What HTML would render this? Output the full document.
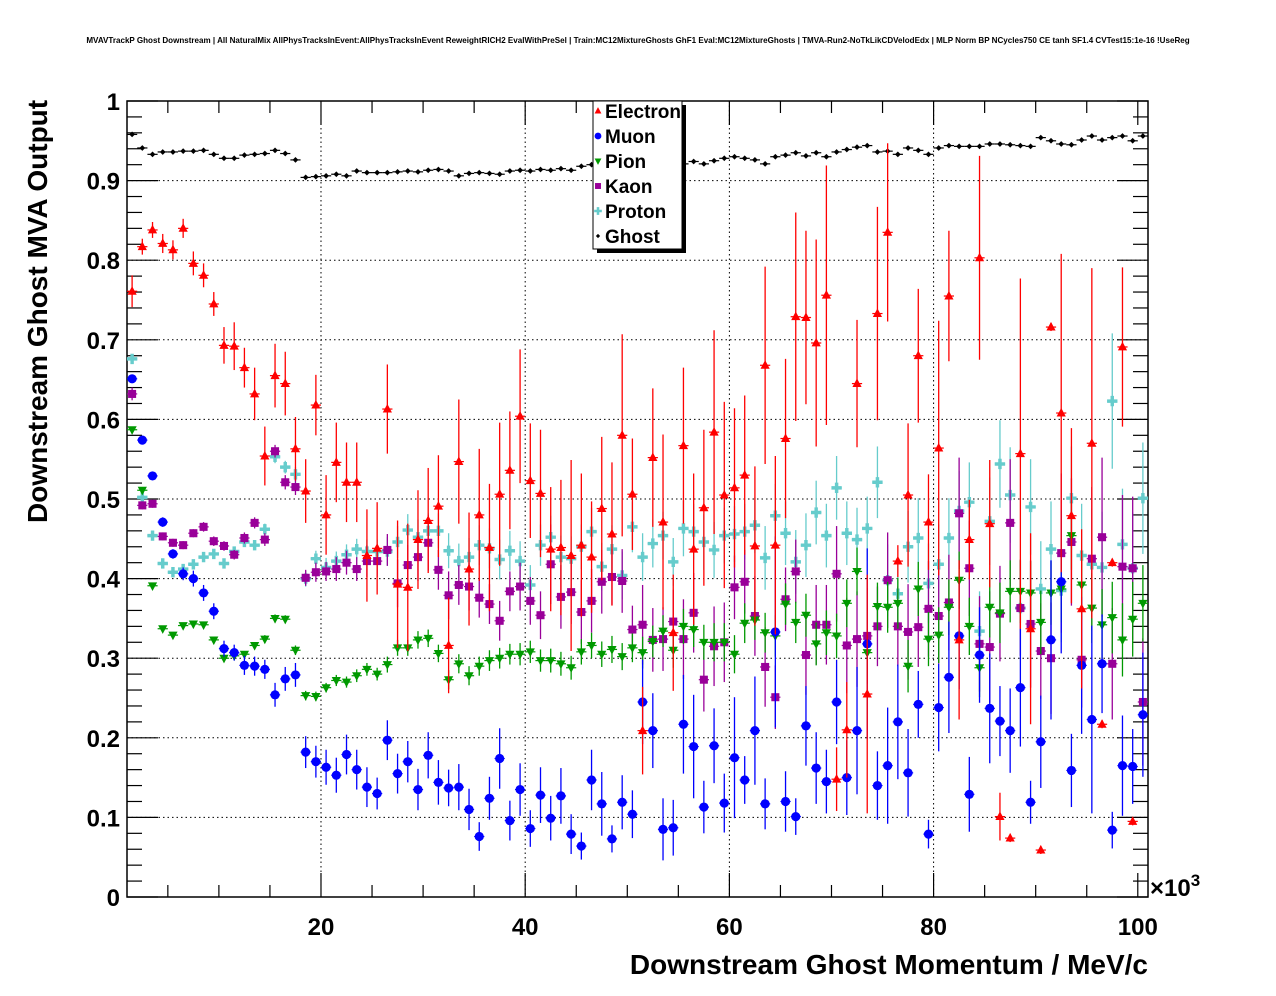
<!DOCTYPE html>
<html><head><meta charset="utf-8"><style>
html,body{margin:0;padding:0;background:#fff;}
svg{display:block;font-family:"Liberation Sans",Arial,sans-serif;}
</style></head><body>
<svg id="chart" width="1276" height="996" viewBox="0 0 1276 996" xmlns="http://www.w3.org/2000/svg">
<rect x="0" y="0" width="1276" height="996" fill="#fff"/>
<text x="638" y="43" text-anchor="middle" font-size="8.05" font-weight="bold">MVAVTrackP Ghost Downstream | All NaturalMix AllPhysTracksInEvent:AllPhysTracksInEvent ReweightRICH2 EvalWithPreSel | Train:MC12MixtureGhosts GhF1 Eval:MC12MixtureGhosts | TMVA-Run2-NoTkLikCDVelodEdx | MLP Norm BP NCycles750 CE tanh SF1.4 CVTest15:1e-16 !UseReg</text>
<g id="grid"></g>
<g id="axes"></g>
<g id="series"></g>
<g id="legend"></g>
<text transform="translate(47,523) rotate(-90)" font-size="28" font-weight="bold">Downstream Ghost MVA Output</text>
<text x="1148" y="974" text-anchor="end" font-size="28" font-weight="bold">Downstream Ghost Momentum / MeV/c</text>
<text x="1150" y="896" font-size="24" font-weight="bold">×10<tspan font-size="17" dy="-10">3</tspan></text>
</svg>
<script>
const binCenters = Array.from({length:100},(_,i)=>1.5+i);
const xTicks = [20,40,60,80,100];
const yTicks = [0,0.1,0.2,0.3,0.4,0.5,0.6,0.7,0.8,0.9,1];
const yTickLabels = ["0","0.1","0.2","0.3","0.4","0.5","0.6","0.7","0.8","0.9","1"];
const seriesNames = ["Electron","Muon","Pion","Kaon","Proton","Ghost"];

const electron = [0.761,0.817,0.838,0.821,0.813,0.84,0.796,0.781,0.745,0.693,0.692,0.665,0.632,0.554,0.655,0.645,0.563,0.51,0.618,0.48,0.546,0.521,0.521,0.429,0.438,
0.613,0.393,0.389,0.449,0.473,0.491,0.316,0.547,0.412,0.48,0.439,0.506,0.536,0.604,0.523,0.507,0.437,0.439,0.429,0.442,0.427,0.488,0.456,0.58,0.506,
0.209,0.552,0.471,0.332,0.567,0.437,0.489,0.584,0.505,0.514,0.53,0.441,0.668,0.442,0.576,0.729,0.728,0.696,0.756,0.148,0.21,0.645,0.255,0.733,0.835,
0.422,0.505,0.68,0.471,0.564,0.755,0.323,0.449,0.803,0.469,0.101,0.074,0.557,0.337,0.059,0.716,0.608,0.479,0.362,0.57,0.217,0.42,0.691,0.095,null];
const electronErr = [0.02,0.01,0.01,0.012,0.012,0.012,0.015,0.015,0.015,0.023,0.03,0.025,0.033,0.037,0.04,0.04,0.04,0.04,0.038,0.05,0.05,0.05,0.05,0.058,0.058,
0.056,0.08,0.08,0.062,0.066,0.064,0.06,0.078,0.071,0.083,0.08,0.09,0.074,0.084,0.072,0.08,0.078,0.085,0.12,0.09,0.07,0.09,0.09,0.127,0.07,
0.055,0.087,0.11,0.073,0.098,0.095,0.098,0.128,0.117,0.1,0.1,0.1,0.124,0.112,0.1,0.131,0.109,0.13,0.163,0.04,0.06,0.08,0.15,0.134,0.112,
0.02,0.09,0.084,0.06,0.16,0.082,0.1,0.05,0.128,0.08,0.03,0.005,0.22,0.12,0.005,0.005,0.2,0.11,0.1,0.22,0.005,0.005,0.1,0.005,0];

const muon = [0.651,0.574,0.529,0.471,0.431,0.406,0.40,0.382,0.359,0.312,0.307,0.291,0.29,0.286,0.254,0.274,0.279,0.182,0.17,0.163,0.153,0.179,0.16,0.138,0.13,
0.197,0.155,0.17,0.135,0.178,0.144,0.137,0.138,0.11,0.076,0.124,0.174,0.096,0.135,0.086,0.128,0.099,0.127,0.079,0.064,0.147,0.117,0.073,0.119,0.104,
0.245,0.209,0.085,0.087,0.217,0.189,0.113,0.19,0.118,0.175,0.147,0.209,0.117,0.333,0.12,0.101,0.215,0.162,0.145,0.245,0.15,0.209,0.318,0.14,0.165,
0.22,0.156,0.242,0.079,0.238,0.276,0.328,0.129,0.304,0.237,0.221,0.209,0.263,0.119,0.195,0.323,0.396,0.159,0.291,0.223,0.293,0.084,0.165,0.164,0.229];
const muonErr = [0.005,0.005,0.005,0.006,0.006,0.008,0.01,0.01,0.01,0.01,0.01,0.012,0.012,0.012,0.015,0.015,0.015,0.02,0.02,0.022,0.022,0.025,0.025,0.025,0.02,
0.025,0.025,0.026,0.026,0.029,0.028,0.023,0.029,0.026,0.018,0.027,0.038,0.025,0.033,0.023,0.035,0.028,0.035,0.025,0.017,0.038,0.04,0.017,0.034,0.03,
0.053,0.047,0.039,0.035,0.062,0.065,0.033,0.047,0.037,0.076,0.03,0.068,0.032,0.12,0.038,0.023,0.05,0.045,0.04,0.053,0.047,0.08,0.12,0.043,0.073,
0.072,0.055,0.042,0.018,0.055,0.07,0.067,0.047,0.06,0.069,0.044,0.053,0.074,0.027,0.058,0.1,0.09,0.046,0.086,0.118,0.062,0.023,0.063,0.047,0.078];

const pion = [0.587,0.511,0.391,0.337,0.329,0.341,0.343,0.342,0.323,0.30,0.303,0.305,0.316,0.324,0.35,0.349,0.31,0.253,0.252,0.263,0.272,0.27,0.278,0.286,0.28,
0.292,0.313,0.313,0.323,0.325,0.306,0.273,0.293,0.278,0.29,0.297,0.30,0.305,0.305,0.308,0.297,0.297,0.293,0.288,0.308,0.316,0.305,0.311,0.302,0.313,
0.307,0.321,0.334,0.31,0.34,0.336,0.32,0.32,0.32,0.305,0.344,0.348,0.332,0.328,0.368,0.345,0.354,0.318,0.332,0.328,0.369,0.409,0.307,0.365,0.364,
0.369,0.29,0.387,0.324,0.329,0.364,0.398,0.34,0.288,0.364,0.357,0.384,0.384,0.382,0.345,0.382,0.387,0.454,0.392,0.363,0.342,0.351,0.323,0.349,0.369];
const pionErr = [0.004,0.004,0.003,0.003,0.003,0.003,0.003,0.003,0.004,0.004,0.004,0.004,0.004,0.005,0.005,0.005,0.006,0.006,0.006,0.006,0.007,0.007,0.008,0.008,0.008,
0.01,0.01,0.01,0.011,0.011,0.011,0.012,0.012,0.012,0.012,0.013,0.013,0.013,0.014,0.014,0.014,0.015,0.015,0.015,0.016,0.016,0.016,0.017,0.017,0.018,
0.02,0.02,0.02,0.022,0.022,0.022,0.022,0.024,0.024,0.024,0.025,0.025,0.025,0.026,0.026,0.026,0.027,0.027,0.028,0.028,0.03,0.03,0.03,0.03,0.032,
0.032,0.033,0.034,0.034,0.035,0.035,0.036,0.036,0.037,0.038,0.038,0.039,0.04,0.04,0.04,0.04,0.042,0.043,0.043,0.044,0.045,0.045,0.046,0.047,0.048];

const kaon = [0.632,0.492,0.494,0.453,0.445,0.442,0.457,0.465,0.447,0.441,0.43,0.451,0.47,0.449,0.56,0.521,0.515,0.401,0.408,0.409,0.412,0.42,0.412,0.422,0.422,
0.436,0.394,0.417,0.427,0.445,0.411,0.379,0.392,0.39,0.376,0.368,0.347,0.384,0.39,0.372,0.354,0.418,0.377,0.383,0.358,0.372,0.396,0.402,0.397,0.336,
0.342,0.323,0.324,0.346,0.324,0.357,0.273,0.315,0.32,0.389,0.396,0.353,0.289,0.251,0.374,0.409,0.304,0.342,0.342,0.406,0.316,0.324,0.328,0.34,0.398,
0.34,0.333,0.339,0.362,0.353,0.37,0.482,0.413,0.318,0.314,0.356,0.47,0.363,0.343,0.309,0.30,0.432,0.446,0.298,0.425,0.452,0.293,0.415,0.413,0.245];
const kaonErr = [0.008,0.005,0.005,0.005,0.005,0.005,0.005,0.006,0.006,0.006,0.006,0.007,0.007,0.008,0.008,0.009,0.01,0.01,0.012,0.012,0.015,0.015,0.015,0.02,0.02,
0.02,0.03,0.025,0.03,0.035,0.025,0.03,0.025,0.03,0.025,0.025,0.025,0.025,0.03,0.03,0.03,0.05,0.04,0.04,0.04,0.04,0.04,0.035,0.04,0.03,
0.05,0.04,0.04,0.04,0.05,0.05,0.04,0.05,0.05,0.04,0.04,0.05,0.05,0.04,0.04,0.04,0.05,0.05,0.05,0.06,0.06,0.06,0.06,0.05,0.06,
0.05,0.06,0.05,0.06,0.06,0.06,0.07,0.06,0.06,0.07,0.06,0.08,0.06,0.08,0.06,0.07,0.1,0.08,0.06,0.09,0.1,0.07,0.09,0.09,0.08];

const proton = [0.676,0.502,0.454,0.419,0.408,0.412,0.418,0.427,0.431,0.419,0.434,0.446,0.442,0.462,0.553,0.54,0.531,0.40,0.425,0.414,0.422,0.43,0.437,0.434,0.434,
0.434,0.446,0.461,0.452,0.46,0.46,0.435,0.422,0.427,0.442,0.438,0.424,0.435,0.422,0.392,0.442,0.452,0.427,0.425,0.44,0.459,0.415,0.437,0.404,0.465,
0.427,0.444,0.454,0.421,0.463,0.459,0.446,0.436,0.454,0.456,0.459,0.467,0.426,0.479,0.457,0.421,0.442,0.483,0.454,0.514,0.457,0.449,0.463,0.521,0.398,
0.381,0.44,0.451,0.394,0.418,0.451,0.485,0.496,0.334,0.472,0.544,0.505,0.363,0.49,0.387,0.437,0.385,0.501,0.429,0.418,0.414,0.623,0.443,0.413,0.501];
const protonErr = [0.006,0.005,0.004,0.004,0.004,0.004,0.004,0.005,0.005,0.005,0.005,0.006,0.006,0.007,0.008,0.008,0.009,0.01,0.01,0.012,0.012,0.013,0.013,0.015,0.015,
0.018,0.02,0.02,0.022,0.022,0.022,0.022,0.022,0.024,0.025,0.025,0.025,0.025,0.025,0.025,0.026,0.027,0.027,0.028,0.028,0.03,0.03,0.03,0.03,0.032,
0.03,0.03,0.03,0.03,0.035,0.035,0.035,0.035,0.035,0.035,0.035,0.035,0.04,0.04,0.04,0.04,0.04,0.04,0.04,0.04,0.04,0.04,0.04,0.045,0.045,
0.045,0.045,0.05,0.05,0.05,0.05,0.05,0.05,0.05,0.055,0.055,0.06,0.06,0.06,0.06,0.06,0.065,0.065,0.065,0.07,0.07,0.085,0.07,0.07,0.07];

const ghost = [0.958,0.941,0.933,0.936,0.936,0.937,0.937,0.938,0.933,0.928,0.928,0.932,0.933,0.934,0.938,0.934,0.926,0.904,0.905,0.906,0.908,0.906,0.912,0.91,0.91,
0.91,0.911,0.912,0.911,0.913,0.914,0.912,0.906,0.909,0.91,0.909,0.908,0.912,0.913,0.912,0.914,0.913,0.915,0.913,0.918,0.92,0.92,0.92,0.92,0.92,
0.92,0.92,0.92,0.92,0.921,0.924,0.921,0.925,0.928,0.93,0.928,0.926,0.921,0.93,0.932,0.935,0.931,0.935,0.93,0.936,0.939,0.942,0.944,0.936,0.937,
0.933,0.941,0.938,0.933,0.941,0.944,0.943,0.943,0.943,0.946,0.946,0.945,0.944,0.943,0.954,0.95,0.946,0.945,0.951,0.956,0.951,0.954,0.956,0.95,0.956];
const ghostErr = Array(100).fill(0.002);

const NS="http://www.w3.org/2000/svg";
const L=127,R=1148,T=101,B=897;
function sx(v){return L+(v-1)*(R-L)/100;}
function sy(v){return B-v*(B-T);}
function mk(tag,attrs,parent){const e=document.createElementNS(NS,tag);for(const k in attrs)e.setAttribute(k,attrs[k]);parent.appendChild(e);return e;}

const grid=document.getElementById('grid');
const axes=document.getElementById('axes');
for(const t of yTicks){ if(t===0||t===1)continue;
  const g=mk('line',{x1:L,x2:R,y1:sy(t),y2:sy(t),stroke:'#000','stroke-width':1,'stroke-dasharray':'1.5,3'},grid);
  
  
}
for(const t of xTicks){ if(t>=100)continue;
  const g=mk('line',{x1:sx(t),x2:sx(t),y1:T,y2:B,stroke:'#000','stroke-width':1,'stroke-dasharray':'1.5,3'},grid);
  
  
}
const frame=mk('rect',{x:L,y:T,width:R-L,height:B-T,fill:'none',stroke:'#000','stroke-width':1.5},axes);


for(let k=0;k<=50;k++){const v=k*0.02;const y=sy(v);const len=(k%5===0)?31:15;
  mk('line',{x1:L,x2:L+len,y1:y,y2:y,stroke:'#000','stroke-width':1.2},axes);
  mk('line',{x1:R,x2:R-len,y1:y,y2:y,stroke:'#000','stroke-width':1.2},axes);
}
yTicks.forEach((t,i)=>{const tx=mk('text',{x:L-7,y:sy(t)+9,'text-anchor':'end','font-size':24,'font-weight':'bold'},axes);tx.textContent=yTickLabels[i];
  
  
});
for(let v=5;v<=100;v+=5){const x=sx(v);const len=(v%20===0)?24:12;
  mk('line',{x1:x,x2:x,y1:B,y2:B-len,stroke:'#000','stroke-width':1.2},axes);
  mk('line',{x1:x,x2:x,y1:T,y2:T+len,stroke:'#000','stroke-width':1.2},axes);
}
xTicks.forEach(t=>{const tx=mk('text',{x:sx(t),y:935,'text-anchor':'middle','font-size':24,'font-weight':'bold'},axes);tx.textContent=String(t);
  
  
});

const colors={Electron:'#ff0000',Muon:'#0000ff',Pion:'#009900',Kaon:'#990099',Proton:'#66cccc',Ghost:'#000000'};
function marker(name,x,y,parent,s){s=s||1.15;const c=colors[name];let e;
  if(name==='Electron'){e=mk('polygon',{points:`${x},${y-4.5*s} ${x-4*s},${y+3*s} ${x+4*s},${y+3*s}`,fill:c},parent);}
  else if(name==='Muon'){e=mk('circle',{cx:x,cy:y,r:4*s,fill:c},parent);}
  else if(name==='Pion'){e=mk('polygon',{points:`${x},${y+4.5*s} ${x-4*s},${y-3*s} ${x+4*s},${y-3*s}`,fill:c},parent);}
  else if(name==='Kaon'){e=mk('rect',{x:x-3.5*s,y:y-3.5*s,width:7*s,height:7*s,fill:c},parent);}
  else if(name==='Proton'){e=mk('path',{d:`M${x-4.5*s},${y}H${x+4.5*s}M${x},${y-4.5*s}V${y+4.5*s}`,stroke:c,'stroke-width':3*s,fill:'none'},parent);}
  else {e=mk('polygon',{points:`${x},${y-2.5*s} ${x-2.5*s},${y} ${x},${y+2.5*s} ${x+2.5*s},${y}`,fill:c},parent);}
  return e;
}
const seriesData={Electron:[electron,electronErr],Muon:[muon,muonErr],Pion:[pion,pionErr],Kaon:[kaon,kaonErr],Proton:[proton,protonErr],Ghost:[ghost,ghostErr]};
const sg=document.getElementById('series');
const order=['Ghost','Proton','Kaon','Pion','Muon','Electron'];
order.forEach(name=>{const [vals,errs]=seriesData[name];const c=colors[name];
  const g=mk('g',{},sg);
  
  
  binCenters.forEach((xc,i)=>{const v=vals[i];if(v===null||v===undefined)return;
    const x=sx(xc),y=sy(v);
    const e=errs[i]||0;
    mk('line',{x1:sx(xc-0.5),x2:sx(xc+0.5),y1:y,y2:y,stroke:c,'stroke-width':1.2},g);
    if(e>0.003)mk('line',{x1:x,x2:x,y1:sy(v+e),y2:sy(v-e),stroke:c,'stroke-width':1.3},g);
    const m=marker(name,x,y,g);
    
    
  });
});
const lg=document.getElementById('legend');
mk('rect',{x:597,y:105,width:89,height:148,fill:'#000'},lg);
const lbox=mk('rect',{x:593,y:101,width:89,height:148,fill:'#fff',stroke:'#000','stroke-width':1},lg);


seriesNames.forEach((n,i)=>{const y=111+i*25;
  const g=mk('g',{},lg);
  
  
  marker(n,598,y,g,0.85);
  const t=mk('text',{x:605,y:y+7,'font-size':19,'font-weight':'bold'},g);t.textContent=n;
});
</script>
</body></html>
